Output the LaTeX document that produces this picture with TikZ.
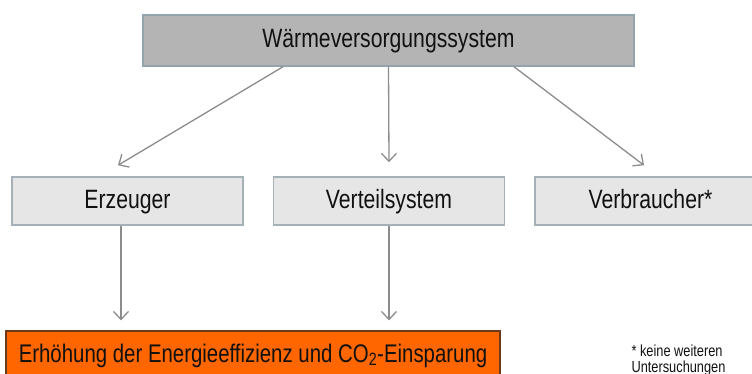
\documentclass[tikz,border=0pt]{standalone}
\usepackage{fontspec}
\setmainfont{Liberation Sans}[FakeStretch=0.8]
\usetikzlibrary{arrows.meta}
\definecolor{topfill}{HTML}{B4B4B4}
\definecolor{topline}{HTML}{93A3AB}
\definecolor{boxfill}{HTML}{E6E6E6}
\definecolor{boxline}{HTML}{A4B1B6}
\definecolor{goalfill}{HTML}{FF6600}
\definecolor{goalline}{HTML}{6B3A1A}
\definecolor{arrowgray}{HTML}{8C8C8C}
\definecolor{textdark}{HTML}{111111}
\begin{document}
\begin{tikzpicture}[x=1pt,y=-1pt]
            %
            % `topbox' is used for the system box on top.
            % `partbox' is used for the three parts.
            % `goalbox' is used for the orange box.
            % `arrow' is used for all connectors.
            \tikzstyle{boxtext} = [text=textdark,font=\fontsize{26.5}{31}\selectfont,text height=19pt,text depth=5pt]
            \tikzstyle{topbox} = [boxtext,draw=topline,fill=topfill,line width=1.5pt,minimum width=491pt,minimum height=51pt]
            \tikzstyle{partbox} = [boxtext,draw=boxline,fill=boxfill,line width=1.5pt,minimum width=231pt,minimum height=48pt]
            \tikzstyle{goalbox} = [boxtext,font=\fontsize{25.5}{30}\selectfont,draw=goalline,fill=goalfill,line width=1.2pt,minimum width=494pt,minimum height=48pt]
            \tikzstyle{arrow} = [draw=arrowgray,line width=1.3pt,-{Straight Barb[length=8pt,width=15pt]}]
            %
            \useasboundingbox (0,0) rectangle (752,373);
            \clip (0,0) rectangle (752,373);
            %
            % Boxes
            \node[topbox] (system) at (388.5,40.5) {Wärmeversorgungssystem};
            \node[partbox] (erzeuger) at (127.5,201) {Erzeuger};
            \node[partbox] (verteil) at (389,201) {Verteilsystem};
            \node[partbox] (verbraucher) at (650.5,201) {Verbraucher*};
            \node[goalbox] (ziel) at (253,355) {Erhöhung der Energieeffizienz und CO\textsubscript{2}-Einsparung};
            %
            % Footnote
            \node[anchor=base west,align=left,text=textdark,font=\fontsize{16}{16}\selectfont] (fussnote) at (628,372) {* keine weiteren\\Untersuchungen};
            %
            % Connectors
            \draw[arrow] ([xshift=-105.5pt]system.south) -- ([xshift=-9.5pt,yshift=11pt]erzeuger.north);
            \draw[arrow] (system.south) -- ([yshift=14pt]verteil.north);
            \draw[arrow] ([xshift=125.5pt]system.south) -- ([xshift=-6.5pt,yshift=11pt]verbraucher.north);
            \coordinate (erzfuss) at ([xshift=-6.5pt]erzeuger.south);
            \draw[arrow,shorten >=10pt] (erzfuss) -- (erzfuss |- ziel.north);
            \draw[arrow,shorten >=10pt] (verteil.south) -- (verteil.south |- ziel.north);
        \end{tikzpicture}
\end{document}
